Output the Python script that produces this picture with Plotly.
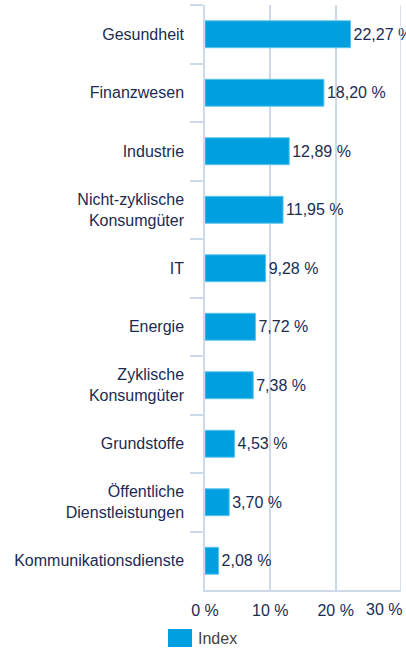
import plotly.graph_objects as go

categories = [
    "Gesundheit",
    "Finanzwesen",
    "Industrie",
    "Nicht-zyklische<br>Konsumgüter",
    "IT",
    "Energie",
    "Zyklische<br>Konsumgüter",
    "Grundstoffe",
    "Öffentliche<br>Dienstleistungen",
    "Kommunikationsdienste",
]
values = [22.27, 18.20, 12.89, 11.95, 9.28, 7.72, 7.38, 4.53, 3.70, 2.08]
x_ticks = [0, 10, 20, 30]
x_tick_labels = ["0 %", "10 %", "20 %", "30 %"]
series_name = "Index"

W, H = 406, 648
L, R, T, B = 205, 5, 5, 58
NAVY = "#1b2b52"
BLUE = "#009fdf"
GRID = "#cdd8e8"
FONT = "Liberation Sans, Arial, sans-serif"
FS = 16

labels = [f"{v:.2f}".replace(".", ",") + " %" for v in values]

fig = go.Figure(go.Bar(
    x=values, y=categories, orientation="h",
    marker=dict(color=BLUE, line=dict(color="#5cc4ec", width=1)),
    width=0.46,
    text=labels, textposition="outside", cliponaxis=False,
    constraintext="none",
    textfont=dict(color=NAVY, size=FS, family=FONT),
    name=series_name, showlegend=False, hoverinfo="skip",
))

pw = W - L - R
ph = H - T - B
def px_x(p):
    return (p - L) / pw
def px_y(p):
    return (H - B - p) / ph

fig.add_shape(type="rect", xref="paper", yref="paper",
              x0=px_x(168), x1=px_x(192), y0=px_y(647), y1=px_y(629),
              fillcolor=BLUE, line=dict(width=0))
fig.add_annotation(xref="paper", yref="paper", x=px_x(196), y=px_y(638),
                   xanchor="left", yanchor="middle", text=series_name,
                   showarrow=False, font=dict(color="#444444", size=FS, family=FONT))

fig.update_layout(
    width=W, height=H,
    margin=dict(l=L, r=R, t=T, b=B, autoexpand=False),
    paper_bgcolor="white", plot_bgcolor="white",
    font=dict(family=FONT, size=FS, color=NAVY),
    showlegend=False,
    xaxis=dict(
        range=[0, 30], tickvals=x_ticks[:-1], ticktext=x_tick_labels[:-1],
        showgrid=True, gridcolor=GRID, gridwidth=1.5,
        showline=True, linecolor=GRID, linewidth=1.5,
        zeroline=False, ticks="", ticklabelstandoff=5,
        tickfont=dict(color=NAVY, size=FS, family=FONT),
        fixedrange=True,
    ),
    yaxis=dict(
        autorange="reversed", type="category",
        tickson="boundaries", ticks="outside", ticklen=13,
        tickcolor=GRID, tickwidth=1.5,
        showline=True, linecolor=GRID, linewidth=1.5,
        showgrid=False, ticklabelstandoff=16,
        tickfont=dict(color=NAVY, size=FS, family=FONT),
        fixedrange=True,
    ),
)

# vertical gridline at 30% and its label (shifted left to fit in the figure)
fig.add_shape(type="line", xref="x", yref="paper", x0=30, x1=30, y0=0, y1=1,
              line=dict(color=GRID, width=1.5))
fig.add_annotation(xref="x", yref="paper", x=30, y=0, yshift=-9,
                   xanchor="right", yanchor="top", xshift=3,
                   text=x_tick_labels[-1], showarrow=False,
                   font=dict(color=NAVY, size=FS, family=FONT))

fig.write_html("out.html", config={"displayModeBar": False},
               post_script="document.body.style.margin='0';document.body.style.overflow='hidden';")
